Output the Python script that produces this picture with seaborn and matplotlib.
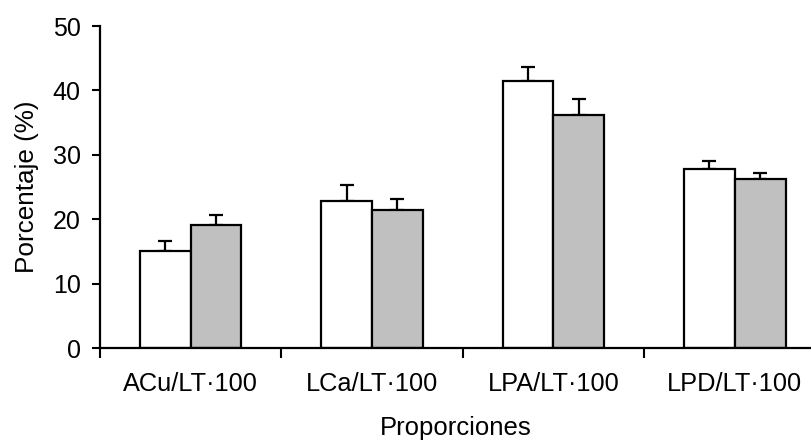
import matplotlib
matplotlib.use("Agg")
import matplotlib.pyplot as plt
import seaborn as sns
import pandas as pd
import numpy as np
from matplotlib.ticker import FixedLocator, NullFormatter

categories = ["ACu/LT\u00b7100", "LCa/LT\u00b7100", "LPA/LT\u00b7100", "LPD/LT\u00b7100"]
groups = ["A", "B"]
values_a = [15.0, 22.8, 41.5, 27.8]
values_b = [19.1, 21.5, 36.2, 26.3]
err_a = [1.6, 2.5, 2.2, 1.3]
err_b = [1.5, 1.6, 2.5, 0.9]
yticks = [0, 10, 20, 30, 40, 50]

sns.set_theme(style="white")
plt.rcParams["font.family"] = ["Liberation Sans", "DejaVu Sans"]

df = pd.DataFrame({
    "cat": categories * 2,
    "grp": [groups[0]] * 4 + [groups[1]] * 4,
    "val": values_a + values_b,
})

fig = plt.figure(figsize=(8.11, 4.43), dpi=100)
ax = fig.add_axes([100 / 811, 1 - 348 / 443, 1 - 100 / 811, (348 - 26) / 443])

sns.barplot(data=df, x="cat", y="val", hue="grp", order=categories, hue_order=groups,
            palette=["white", "#c0c0c0"], saturation=1, width=0.56, dodge=True,
            errorbar=None, edgecolor="black", linewidth=1.6, legend=False, ax=ax)

bars = [p for p in ax.patches]
errs = err_a + err_b
xs = [b.get_x() + b.get_width() / 2 for b in bars]
tops = [b.get_height() for b in bars]
ax.errorbar(xs, tops, yerr=[np.zeros(len(errs)), errs], fmt="none", ecolor="black",
            elinewidth=1.6, capsize=5, capthick=1.6, zorder=1)
for b in bars:
    b.set_zorder(2)

ax.set_xlim(-0.5, 3.42)
ax.set_ylim(0, 50)
ax.set_yticks(yticks)
ax.xaxis.set_major_locator(FixedLocator([-0.5, 0.5, 1.5, 2.5, 3.5]))
ax.xaxis.set_major_formatter(NullFormatter())
ax.xaxis.set_minor_locator(FixedLocator([0, 1, 2, 3]))
ax.set_xticklabels(categories, minor=True)
ax.tick_params(axis="x", which="major", direction="out", length=7, width=1.5, color="black", bottom=True)
ax.tick_params(axis="x", which="minor", length=0, pad=17, labelsize=18.3, labelcolor="black", bottom=True)
ax.tick_params(axis="y", direction="out", length=6, width=1.5, color="black", left=True,
               pad=8, labelsize=18, labelcolor="black")

ax.set_xlabel("Proporciones", fontsize=18.5, color="black", labelpad=15)
ax.set_ylabel("Porcentaje (%)", fontsize=18.8, color="black", labelpad=10)

for s in ["top", "right"]:
    ax.spines[s].set_visible(False)
for s in ["left", "bottom"]:
    ax.spines[s].set_color("black")
    ax.spines[s].set_linewidth(1.6)

fig.savefig("out.png", dpi=100)
